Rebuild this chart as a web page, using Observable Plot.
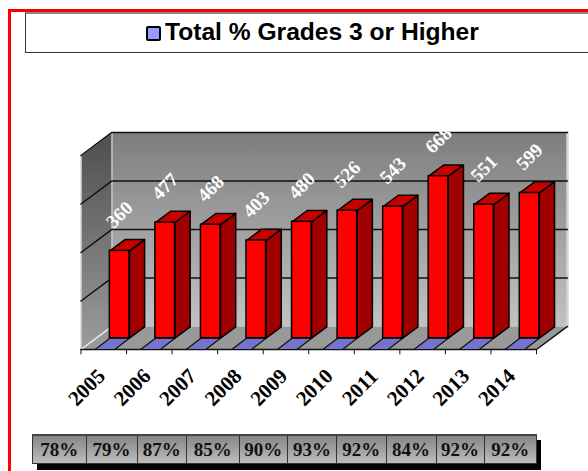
<!DOCTYPE html>
<html>
<head>
<meta charset="utf-8">
<script src="https://cdn.jsdelivr.net/npm/d3@7"></script>
<script src="https://cdn.jsdelivr.net/npm/@observablehq/plot@0.6"></script>
<style>
html,body{margin:0;padding:0;background:#fff;overflow:hidden}
#page{position:relative;width:588px;height:471px;overflow:hidden;font-family:"Liberation Sans",sans-serif}
#frame{position:absolute;left:8px;top:9px;width:600px;height:500px;border:3px solid #f00;box-sizing:border-box}
#title{position:absolute;left:25px;top:12px;width:600px;height:41px;box-sizing:border-box;border:1px solid #333;border-top:2px solid #888}
#titleText{position:absolute;left:165px;top:17px;font-weight:bold;font-size:24.6px;line-height:30px;color:#000;white-space:nowrap}
#key{position:absolute;left:146px;top:26px;width:15px;height:15px;box-sizing:border-box;background:#99f;border:2px solid #000;border-radius:2px}
#chart{position:absolute;left:0;top:60px}
#shadow{position:absolute;left:37px;top:440px;width:504px;height:30px;background:#000}
table{position:absolute;left:32px;top:434px;border-collapse:collapse;table-layout:fixed;width:504px;height:30px;font-family:"Liberation Serif",serif}
td{border:1px solid #333;border-top:2px solid #444;padding:0;text-align:center;font-weight:bold;font-size:19px;color:#111;background:linear-gradient(#858585,#bdbdbd)}
</style>
</head>
<body>
<div id="page">
  <div id="frame"></div>
  <div id="title"></div>
  <div id="key"></div>
  <div id="titleText"></div>
  <div id="chart"></div>
  <div id="shadow"></div>
  <table id="tbl"></table>
</div>
<script>
const titleLabel = "Total % Grades 3 or Higher";
const years = [2005, 2006, 2007, 2008, 2009, 2010, 2011, 2012, 2013, 2014];
const counts = [360, 477, 468, 403, 480, 526, 543, 668, 551, 599];
const percents = ["78%", "79%", "87%", "85%", "90%", "93%", "92%", "84%", "92%", "92%"];
const gridValues = [200, 400, 600, 800];
const colWidths = [53.5, 51, 49.5, 52.5, 48.5, 49, 49.5, 50, 48, 52.5];

document.getElementById("titleText").textContent = titleLabel;
const tbl = d3.select("#tbl");
tbl.append("colgroup").selectAll("col").data(colWidths).join("col").style("width", d => d + "px");
tbl.append("tr").selectAll("td").data(percents).join("td").text(d => d);

// Oblique 3-D projection, in data units: depth 0 = front edge of floor, depth 1 = back wall
const depthX = 0.68, depthY = 95;
const P = (x, v, d) => ({x: x + depthX * d, y: v + depthY * d});
const poly = (id, pts) => [...pts, pts[0]].map(p => ({...p, id}));
const n = years.length, yMax = gridValues[gridValues.length - 1];
const barD0 = 0.49, barD1 = 0.98, barL = 0.3, barW = 0.43;

const barData = years.map((year, i) => ({year, i, v: counts[i]}));
const sides = barData.flatMap(b => poly(b.i, [
  P(b.i + barL + barW, 0, barD0), P(b.i + barL + barW, 0, barD1),
  P(b.i + barL + barW, b.v, barD1), P(b.i + barL + barW, b.v, barD0)]));
const tops = barData.flatMap(b => poly(b.i, [
  P(b.i + barL, b.v, barD0), P(b.i + barL + barW, b.v, barD0),
  P(b.i + barL + barW, b.v, barD1), P(b.i + barL, b.v, barD1)]));
const blue = barData.flatMap(b => poly(b.i, [
  P(b.i + barL + 0.01, 0, 0), P(b.i + barL + barW + 0.01, 0, 0),
  P(b.i + barL + barW, 0, barD0), P(b.i + barL, 0, barD0)]));
const grid = gridValues.flatMap(v => [
  {...P(0, v, 0), id: v}, {...P(0, v, 1), id: v}, {...P(n, v, 1), id: v}]);

const defs = () => {
  const svgNS = "http://www.w3.org/2000/svg";
  const d = document.createElementNS(svgNS, "defs");
  const stops = {backWall: ["#7e7e7e", "#c2c2c2"], sideWall: ["#4e4e4e", "#9c9c9c"]};
  for (const [id, [a, b]] of Object.entries(stops)) {
    const g = document.createElementNS(svgNS, "linearGradient");
    g.setAttribute("id", id);
    g.setAttribute("x1", 0); g.setAttribute("x2", 0); g.setAttribute("y1", 0); g.setAttribute("y2", 1);
    [[0, a], [1, b]].forEach(([o, c]) => {
      const s = document.createElementNS(svgNS, "stop");
      s.setAttribute("offset", o); s.setAttribute("stop-color", c);
      g.appendChild(s);
    });
    d.appendChild(g);
  }
  return d;
};

const wall = {x: "x", y: "y", z: "id", curve: "linear"};
const ticks = d3.range(n + 1);
const baseY = 289, pxPerUnit = 0.2425;

const plot = Plot.plot({
  width: 588, height: 370,
  marginLeft: 0, marginRight: 0, marginTop: 0, marginBottom: 0,
  x: {type: "linear", domain: [0, n], range: [80.5, 536], axis: null},
  y: {type: "linear", domain: [0, yMax + depthY], range: [baseY, baseY - (yMax + depthY) * pxPerUnit], axis: null},
  marks: [
    defs,
    // back wall
    Plot.line(poly("b", [P(0,0,1), P(n,0,1), P(n,yMax,1), P(0,yMax,1)]), {...wall, fill: "url(#backWall)", stroke: "none"}),
    // side wall
    Plot.line(poly("s", [P(0,0,0), P(0,0,1), P(0,yMax,1), P(0,yMax,0)]), {...wall, fill: "url(#sideWall)", stroke: "none"}),
    // floor
    Plot.line(poly("f", [P(0,0,0), P(n,0,0), P(n,0,1), P(0,0,1)]), {...wall, fill: "#999", stroke: "none"}),
    // wall highlights
    Plot.line([P(n,0,1), P(n,yMax,1)], {x: "x", y: "y", stroke: "#d4d4d4", strokeWidth: 2.5}),
    Plot.line([P(0,0,1), P(0,yMax,1)], {x: "x", y: "y", stroke: "#c8c8c8", strokeWidth: 1.5}),
    Plot.line([P(0,0,0), P(0,yMax,0), P(0,yMax,1)], {x: "x", y: "y", stroke: "#d8d8d8", strokeWidth: 1.5}),
    Plot.line([P(0,0,0), P(0,0,1)], {x: "x", y: "y", stroke: "#eee", strokeWidth: 1.5}),
    // gridlines
    Plot.line(grid, {x: "x", y: "y", z: "id", stroke: "#111", strokeWidth: 1.5}),
    // floor edges and ticks
    Plot.line([P(0,0,0), P(n,0,0), P(n,0,1)], {x: "x", y: "y", stroke: "#111", strokeWidth: 1.5}),
    Plot.ruleX(ticks, {x: d => d, y1: 0, y2: -22, stroke: "#111", strokeWidth: 1}),
    // blue series on the floor
    Plot.line(blue, {...wall, fill: "#7474cc", stroke: "#111", strokeWidth: 1.2}),
    // bars
    Plot.line(sides, {...wall, fill: "#a00000", stroke: "#000", strokeWidth: 1.5}),
    Plot.line(tops, {...wall, fill: "#c80000", stroke: "#000", strokeWidth: 1.5}),
    Plot.rect(barData, {
      x1: d => P(d.i + barL, 0, barD0).x, x2: d => P(d.i + barL + barW, 0, barD0).x,
      y1: () => P(0, 0, barD0).y, y2: d => P(0, d.v, barD0).y,
      fill: "#ff0000", stroke: "#000", strokeWidth: 1.5
    }),
    // value labels
    Plot.text(barData, {
      x: d => P(d.i + barL + barW / 2, 0, barD0).x, y: d => P(0, d.v, barD0).y,
      text: d => String(d.v), rotate: -45, dy: -36, dx: 0, fill: "#fff",
      fontFamily: "Liberation Serif", fontWeight: "bold", fontSize: 19, textAnchor: "middle"
    }),
    // year labels
    Plot.text(barData, {
      x: d => d.i + 0.5, y: 0,
      text: d => String(d.year), rotate: -45, dx: -17, dy: 38, fill: "#000",
      fontFamily: "Liberation Serif", fontWeight: "bold", fontSize: 21, textAnchor: "middle"
    })
  ]
});
document.getElementById("chart").appendChild(plot);
</script>
</body>
</html>
